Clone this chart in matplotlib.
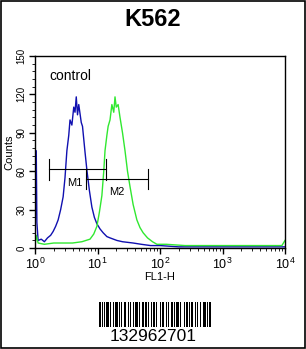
import matplotlib
matplotlib.use("Agg")
import matplotlib.pyplot as plt
import numpy as np
from matplotlib.patches import Rectangle

plt.rcParams['font.family'] = ['Liberation Sans', 'DejaVu Sans']
plt.rcParams['mathtext.fontset'] = 'custom'
plt.rcParams['mathtext.rm'] = 'Liberation Sans'
plt.rcParams['mathtext.it'] = 'Liberation Sans'

title = "K562"
sample_id = "132962701"

# histogram traces, x as log10(FL1-H), y as counts
blue_logx = [0.0, 0.02, 0.03, 0.05, 0.1, 0.15, 0.2, 0.25, 0.29, 0.33, 0.37, 0.41, 0.45,
             0.48, 0.51, 0.54, 0.56, 0.59, 0.62, 0.64, 0.66, 0.68, 0.7, 0.72, 0.74, 0.76,
             0.8, 0.83, 0.87, 0.91, 0.95, 0.99, 1.04, 1.09, 1.15, 1.2, 1.31, 1.4, 1.57,
             1.7, 1.85, 2.0, 2.3, 2.6, 3.0, 3.4, 3.8, 4.0]
blue_counts = [3, 76, 20, 6, 7, 5, 8, 10, 13, 17, 22, 30, 40, 55, 76, 88, 100, 96, 110, 106,
               118, 104, 112, 105, 98, 95, 75, 61, 45, 32, 24, 19, 15, 12, 9, 8, 6, 5, 4,
               3, 2, 2, 1, 1, 1, 1, 1, 1]
green_logx = [0.0, 0.02, 0.05, 0.15, 0.3, 0.45, 0.6, 0.75, 0.88, 0.94, 0.99, 1.03, 1.07,
              1.1, 1.12, 1.15, 1.17, 1.2, 1.23, 1.26, 1.28, 1.3, 1.33, 1.36, 1.4, 1.44,
              1.48, 1.52, 1.57, 1.63, 1.68, 1.73, 1.8, 1.88, 1.95, 2.1, 2.4, 2.8, 3.2,
              3.6, 3.95, 4.0]
green_counts = [2, 10, 4, 3, 4, 4, 4, 5, 7, 11, 17, 28, 41, 60, 76, 88, 95, 100, 112, 106,
                118, 110, 112, 102, 90, 76, 60, 48, 34, 22, 16, 12, 8, 5, 3, 3, 2, 2, 2,
                2, 2, 6]

# marker gates: (label, low, high, level)
gates = [("M1", 1.67, 13.7, 61.5), ("M2", 6.5, 64.0, 54.0)]
gate_labels = [("M1", 4.4, 51), ("M2", 20.0, 44)]

# barcode pattern: alternating bar / gap widths in modules
barcode = [2, 1, 1, 1, 1, 1, 2, 1, 1, 2, 1, 1, 3, 1, 1, 1, 1, 2, 2, 1, 1, 1, 1, 2, 1, 1,
           3, 1, 1, 2, 2, 1, 1, 1, 1, 2, 1, 1, 2, 1, 1, 3, 1, 1, 2, 1, 1, 1, 1, 2, 2, 1,
           1, 1, 3, 1, 1, 2, 1, 1, 2, 1, 1, 1, 2, 2, 1, 1, 1, 2, 1, 1, 3, 1, 1, 1, 2]

fig = plt.figure(figsize=(3.06, 3.49), dpi=100)
fig.patches.append(Rectangle((0.002, 0.002), 0.995, 0.995, transform=fig.transFigure,
                             fill=False, edgecolor='black', linewidth=1.2))
fig.text(0.5, 0.943, title, ha='center', va='center', fontsize=17, fontweight='bold')

ax = fig.add_axes([0.1144, 0.289, 0.817, 0.551])
ax.plot(10 ** np.array(blue_logx), blue_counts, color='#1010b0', lw=1.0)
ax.plot(10 ** np.array(green_logx), green_counts, color='#30e830', lw=1.0)

for name, lo, hi, lev in gates:
    ax.plot([lo, hi], [lev, lev], color='black', lw=0.8)
    ax.plot([lo, lo], [lev - 8, lev + 8], color='black', lw=0.8)
    ax.plot([hi, hi], [lev - 8, lev + 8], color='black', lw=0.8)
for name, x, y in gate_labels:
    ax.text(x, y, name, ha='center', va='center', fontsize=8)
ax.text(1.68, 134, "control", ha='left', va='center', fontsize=10)

ax.set_xscale('log')
ax.set_xlim(1, 10000)
ax.set_ylim(0, 150)
ax.set_xticks([1, 10, 100, 1000, 10000])
ax.set_xticklabels([r'$10^{0}$', r'$10^{1}$', r'$10^{2}$', r'$10^{3}$', r'$10^{4}$'],
                   fontsize=9)
ax.set_yticks([0, 30, 60, 90, 120, 150])
ax.set_yticklabels(['0', '30', '60', '90', '120', '150'], fontsize=7, rotation=90,
                   va='center')
ax.set_yticks(np.arange(0, 151, 6), minor=True)
ax.tick_params(axis='both', which='major', direction='out', length=4, width=1, pad=2)
ax.tick_params(axis='both', which='minor', direction='out', length=2, width=0.6)
ax.set_xlabel("FL1-H", fontsize=8, labelpad=0)
ax.set_ylabel("Counts", fontsize=8, labelpad=2)
for s in ax.spines.values():
    s.set_linewidth(1.0)

bx = fig.add_axes([0.3235, 0.063, 0.366, 0.072])
pos = 0
for i, w in enumerate(barcode):
    if i % 2 == 0:
        bx.add_patch(Rectangle((pos, 0), w, 1, color='black', lw=0))
    pos += w
bx.set_xlim(0, pos)
bx.set_ylim(0, 1)
bx.axis('off')
fig.text(0.5, 0.037, sample_id, ha='center', va='center', fontsize=12.5)

fig.savefig("out.png", dpi=100)
